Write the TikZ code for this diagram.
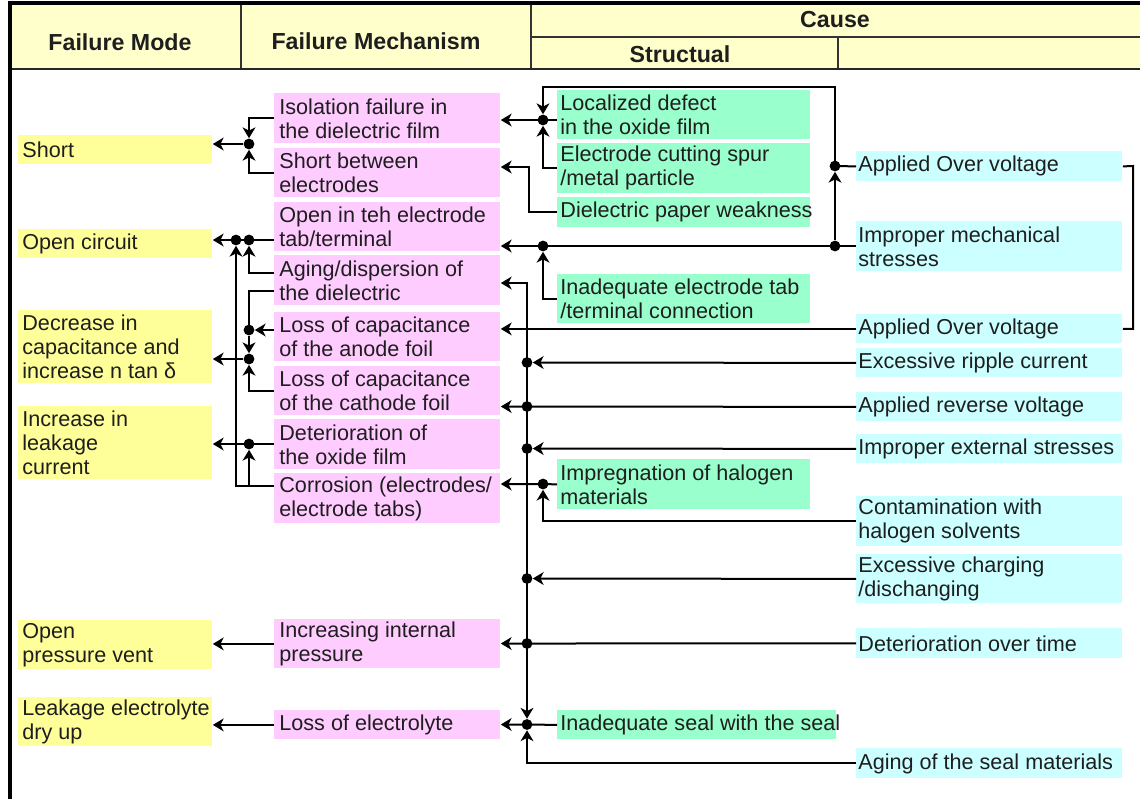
\documentclass[tikz,border=0pt]{standalone}
\usepackage{fontspec}
\setmainfont{Liberation Sans}
\usetikzlibrary{arrows.meta}
\definecolor{hdr}{RGB}{255,255,204}
\definecolor{ylw}{RGB}{255,255,153}
\definecolor{pnk}{RGB}{255,204,255}
\definecolor{grn}{RGB}{153,255,204}
\definecolor{cyn}{RGB}{204,255,255}
\definecolor{ink}{RGB}{30,30,30}
\newcommand\mkbox[8]{%
  \node[bx, fill=#2, minimum width=#5*0.5pt, minimum height=#6*0.5pt] (#1) at (#3,#4) {};
  \node[txt] at ([xshift=#7pt]#1.west) {#8};}
\begin{document}
\begin{tikzpicture}[x=0.5pt,y=-0.5pt,
  bx/.style={draw=none, anchor=north west, inner sep=0pt, rectangle},
  txt/.style={anchor=west, align=left, inner sep=0pt, text=ink, font=\fontsize{10.8pt}{12pt}\selectfont},
  htxt/.style={inner sep=0pt, text=ink, font=\bfseries\fontsize{11.6pt}{13pt}\selectfont},
  dotnode/.style={circle, inner sep=0pt, minimum size=5.4pt},
  tipA/.tip={Stealth[length=5.4pt,width=6.4pt,inset=1.6pt]},
  arr/.style={-tipA},
  arrtwo/.style={tipA-tipA},
  conn/.style={line width=1pt, black},
  hline/.style={line width=0.8pt, black!80}]
\useasboundingbox (0,0) rectangle (1140,799);
\fill[white] (0,0) rectangle (1140,799);
% header
\fill[hdr] (10,3) rectangle (1140,69);
\draw[hline] (241,3) -- (241,69);
\draw[hline] (531,3) -- (531,69);
\draw[hline] (531,37) -- (1140,37);
\draw[hline] (838,37) -- (838,69);
\draw[line width=1.1pt, black!85] (10,69) -- (1140,69);
\draw[line width=2pt] (8,3) -- (1140,3);
\draw[line width=1.6pt] (10,2) -- (10,799);
\node[htxt] (hFM) at (120,42) {Failure Mode};
\node[htxt] (hMech) at (376,41) {Failure Mechanism};
\node[htxt] (hCause) at (835,20) {Cause};
\node[htxt] (hStruct) at (680,54) {Structual};
% failure modes
\mkbox{fShort}{ylw}{18}{135}{194}{29}{2}{Short}
\mkbox{fOpen}{ylw}{18}{229}{194}{29}{2}{Open circuit}
\mkbox{fDec}{ylw}{18}{310}{194}{73}{2}{Decrease in\\capacitance and\\increase n tan δ}
\mkbox{fInc}{ylw}{18}{406}{194}{73}{2}{Increase in\\leakage\\current}
\mkbox{fVent}{ylw}{18}{620}{194}{49}{2}{Open\\pressure vent}
\mkbox{fLeak}{ylw}{18}{697}{194}{49}{2}{Leakage electrolyte\\dry up}
% mechanisms
\mkbox{mIso}{pnk}{274}{93}{226}{50}{2.5}{Isolation failure in\\the dielectric film}
\mkbox{mShort}{pnk}{274}{148}{226}{49}{2.5}{Short between\\electrodes}
\mkbox{mOpen}{pnk}{274}{202}{226}{49}{2.5}{Open in teh electrode\\tab/terminal}
\mkbox{mAging}{pnk}{274}{255}{226}{50}{2.5}{Aging/dispersion of\\the dielectric}
\mkbox{mAnode}{pnk}{274}{312}{226}{49}{2.5}{Loss of capacitance\\of the anode foil}
\mkbox{mCath}{pnk}{274}{366}{226}{49}{2.5}{Loss of capacitance\\of the cathode foil}
\mkbox{mDet}{pnk}{274}{419}{226}{50}{2.5}{Deterioration of\\the oxide film}
\mkbox{mCorr}{pnk}{274}{473}{226}{50}{2.5}{Corrosion (electrodes/\\electrode tabs)}
\mkbox{mPress}{pnk}{274}{619}{226}{49}{2.5}{Increasing internal\\pressure}
\mkbox{mElec}{pnk}{274}{710}{226}{29}{2.5}{Loss of electrolyte}
% structural causes
\mkbox{sLoc}{grn}{557}{90}{253}{49}{1.5}{Localized defect\\in the oxide film}
\mkbox{sSpur}{grn}{557}{143}{253}{50}{1.5}{Electrode cutting spur\\/metal particle}
\mkbox{sPaper}{grn}{557}{197}{253}{30}{1.5}{Dielectric paper weakness}
\mkbox{sTab}{grn}{557}{274}{253}{49}{1.5}{Inadequate electrode tab\\/terminal connection}
\mkbox{sHalo}{grn}{557}{459}{253}{50}{1.5}{Impregnation of halogen\\materials}
\mkbox{sSeal}{grn}{557}{710}{279}{29}{1.5}{Inadequate seal with the seal}
% other causes
\mkbox{cOV1}{cyn}{856}{151}{266}{30}{1}{Applied Over voltage}
\mkbox{cMech}{cyn}{856}{221}{266}{50}{1}{Improper mechanical\\stresses}
\mkbox{cOV2}{cyn}{856}{314}{266}{29}{1}{Applied Over voltage}
\mkbox{cRip}{cyn}{856}{348}{266}{29}{1}{Excessive ripple current}
\mkbox{cRev}{cyn}{856}{392}{266}{29}{1}{Applied reverse voltage}
\mkbox{cExt}{cyn}{856}{434}{266}{29}{1}{Improper external stresses}
\mkbox{cCont}{cyn}{856}{496}{266}{50}{1}{Contamination with\\halogen solvents}
\mkbox{cChg}{cyn}{856}{554}{266}{49}{1}{Excessive charging\\/dischanging}
\mkbox{cTime}{cyn}{856}{628}{266}{30}{1}{Deterioration over time}
\mkbox{cSealAg}{cyn}{856}{748}{266}{30}{1}{Aging of the seal materials}
% junction dots (shapes)
\node[dotnode] (dS) at (249,144) {};
\node[dotnode] (dOa) at (236,240) {};
\node[dotnode] (dOb) at (249,240) {};
\node[dotnode] (dA) at (249,330) {};
\node[dotnode] (dD) at (249,359) {};
\node[dotnode] (dI) at (249,444) {};
\node[dotnode] (dLoc) at (543,120) {};
\node[dotnode] (dOV) at (835,166) {};
\node[dotnode] (dMechR) at (835,246) {};
\node[dotnode] (dMechL) at (543,246) {};
\node[dotnode] (dRip) at (527,362.5) {};
\node[dotnode] (dRev) at (527,406.5) {};
\node[dotnode] (dExt) at (527,448.5) {};
\node[dotnode] (dHalo) at (543,484) {};
\node[dotnode] (dChg) at (527,578.5) {};
\node[dotnode] (dTime) at (527,643.5) {};
\node[dotnode] (dSeal) at (527,724.5) {};
\coordinate (agA) at (274,273);
\coordinate (agB) at (274,291);
\coordinate (corA) at (274,486);
\coordinate (corB) at (249,486);
\coordinate (topR) at (835,87);
\coordinate (papC) at (529,167);
\coordinate (trTop) at (527,283);
\coordinate (brR) at (1133,166);
% left connectors
\draw[conn,arr] (mIso.west) -| (dS);
\draw[conn,arr] (mShort.west) -| (dS);
\draw[conn,arr] (dS) -- (dS -| fShort.east);
\draw[conn,arr] (dOb -| mOpen.west) -- (dOa.center) -- (dOa -| fOpen.east);
\draw[conn,arr] (agA) -| (dOb);
\draw[conn,arr] (corA) -| (dOa);
\draw[conn,arr] (corB) -- (dI);
\draw[conn] (agB) -| (dA.center);
\draw[conn,arr] (mAnode.west |- dA) -- (dA);
\draw[conn,arr] (dA) -- (dD);
\draw[conn,arr] (mCath.west) -| (dD);
\draw[conn,arr] (dD) -- (dD -| fDec.east);
\draw[conn,arr] (mDet.west |- dI) -- (dI.center) -- (dI -| fInc.east);
\draw[conn,arr] (mPress.west) -- (mPress.west -| fVent.east);
\draw[conn,arr] (mElec.west) -- (mElec.west -| fLeak.east);
% middle connectors
\draw[conn,arr] (sLoc.west |- dLoc) -- (dLoc.center) -- (dLoc -| mIso.east);
\draw[conn,arr] (dMechR) -- (dOV);
\draw[conn,arr] (dOV.center) -- (topR) -| (dLoc);
\draw[conn,arr] (sSpur.west) -| (dLoc);
\draw[conn,arr] (sPaper.west) -| (papC) -- (papC -| mShort.east);
\draw[conn] (cOV1.west) -- (dOV.center);
\draw[conn,arr] (cMech.west |- dMechR) -- (dMechR.center) -- (dMechL.center) -- (dMechL -| mOpen.east);
\draw[conn,arr] (sTab.west) -| (dMechL);
\draw[conn] (cOV1.east) -- (brR) |- (cOV2.east);
\draw[conn,arr] (cOV2.west) -- (cOV2.west -| mAnode.east);
\draw[conn,arrtwo] (trTop -| mAging.east) -- (trTop) -- (dSeal);
\draw[conn,arr] (cRip.west) -- (dRip);
\draw[conn,arr] (cRev.west) -- (dRev.center) -- (dRev -| mCath.east);
\draw[conn,arr] (cExt.west) -- (dExt);
\draw[conn,arr] (sHalo.west) -- (dHalo.center) -- (dHalo -| mCorr.east);
\draw[conn,arr] (cCont.west) -| (dHalo);
\draw[conn,arr] (cChg.west) -- (dChg);
\draw[conn,arr] (cTime.west) -- (dTime.center) -- (dTime -| mPress.east);
\draw[conn,arr] (sSeal.west) -- (dSeal.center) -- (dSeal -| mElec.east);
\draw[conn,arr] (cSealAg.west) -| (dSeal);
% dots on top
\foreach \d in {dS,dOa,dOb,dA,dD,dI,dLoc,dOV,dMechR,dMechL,dRip,dRev,dExt,dHalo,dChg,dTime,dSeal}
  \fill (\d.center) circle (2.7pt);
\end{tikzpicture}
\end{document}
